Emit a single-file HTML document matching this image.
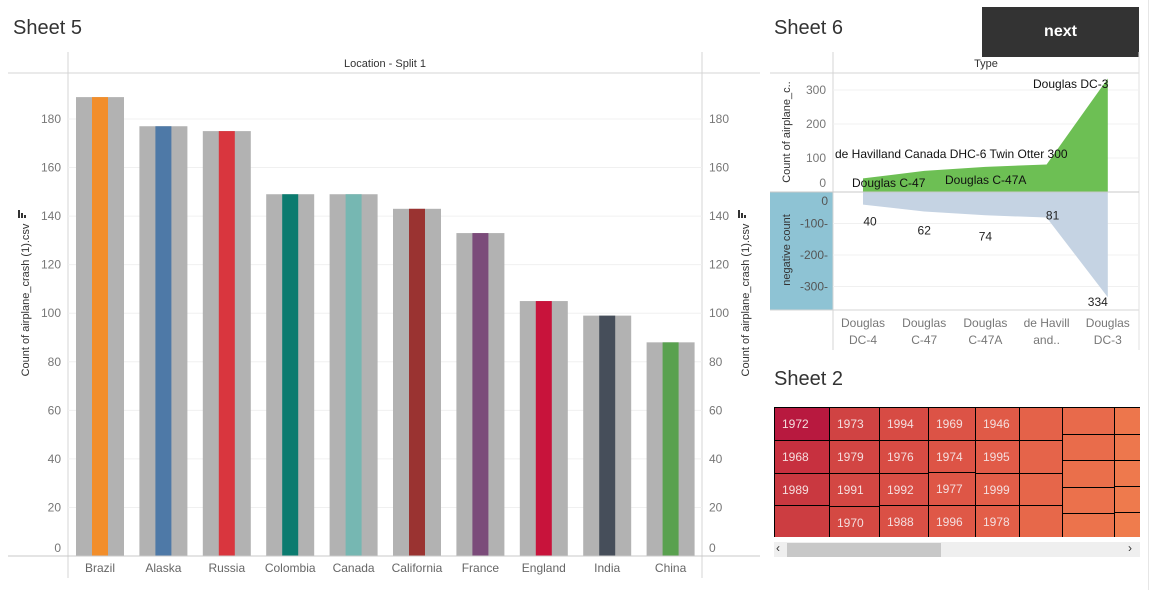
<!DOCTYPE html>
<html><head><meta charset="utf-8"><style>
body{margin:0;width:1153px;height:590px;background:#fff;font-family:"Liberation Sans",sans-serif;overflow:hidden;position:relative}
.t{position:absolute;font-size:20px;color:#333}
</style></head><body>
<div class="t" style="left:13px;top:17px">Sheet 5</div>
<div class="t" style="left:774px;top:17px">Sheet 6</div>
<div class="t" style="left:774px;top:368px">Sheet 2</div>
<div style="position:absolute;left:982px;top:7px;width:157px;height:50px;background:#333;color:#fff;font-weight:bold;font-size:16px;display:flex;align-items:center;justify-content:center">next</div>
<div style="position:absolute;left:1148px;top:0;width:1px;height:590px;background:#e6e6e6"></div>
<svg id="s5" width="1153" height="590" style="position:absolute;left:0;top:0"></svg>
<svg id="s6" width="1153" height="590" style="position:absolute;left:0;top:0"></svg>
<div style="position:absolute;left:774px;top:407px;width:366px;height:130px;overflow:hidden;background:#000" id="tm"></div>
<div style="position:absolute;left:774px;top:542px;width:366px;height:15px;background:#efefef">
<div style="position:absolute;left:13px;top:1px;width:154px;height:14px;background:#c8c8c8"></div>
<div style="position:absolute;left:2px;top:-1px;font-size:12px;color:#333">&lsaquo;</div>
<div style="position:absolute;right:8px;top:-1px;font-size:12px;color:#333">&rsaquo;</div>
</div>
<script>
const NS="http://www.w3.org/2000/svg";
function mk(svg,tag,a,txt){const e=document.createElementNS(NS,tag);for(const k in a)e.setAttribute(k,a[k]);if(txt!==undefined)e.textContent=txt;svg.appendChild(e);return e;}
// ---- Sheet 5 data
const locations=["Brazil","Alaska","Russia","Colombia","Canada","California","France","England","India","China"];
const counts=[189,177,175,149,149,143,133,105,99,88];
const barColors=["#f28e2b","#4e79a7","#d9363e","#0b7b6f","#76b7b2","#9a3331","#7b4b7a","#c8133b","#464e5a","#59a14f"];
const yTicks=[0,20,40,60,80,100,120,140,160,180];
const s5=document.getElementById('s5');
const y5=v=>556-v*2.428, x5=i=>100+i*63.4;
let e;
e=mk(s5,'line',{x1:8,y1:73,x2:760,y2:73,stroke:'#d4d4d4'});
e=mk(s5,'line',{x1:68,y1:52,x2:68,y2:578,stroke:'#d4d4d4'});
e=mk(s5,'line',{x1:702,y1:52,x2:702,y2:578,stroke:'#d4d4d4'});
e=mk(s5,'text',{x:385,y:67,'font-size':11,'text-anchor':'middle',fill:'#333'},'Location - Split 1');
yTicks.forEach(t=>{
 const ly=t===0?552:y5(t)+4;
 e=mk(s5,'line',{x1:68,x2:702,y1:y5(t),y2:y5(t),stroke:'#f0f0f0'});
 e=mk(s5,'text',{x:61,y:ly,'font-size':12,'text-anchor':'end',fill:'#777'},t);
 e=mk(s5,'text',{x:709,y:ly,'font-size':12,fill:'#777'},t);
});
locations.forEach((l,i)=>{
 e=mk(s5,'rect',{x:x5(i)-24,y:y5(counts[i]),width:48,height:556-y5(counts[i]),fill:'#b2b2b2'});
 e=mk(s5,'rect',{x:x5(i)-8,y:y5(counts[i]),width:16,height:556-y5(counts[i]),fill:barColors[i]});
 e=mk(s5,'text',{x:x5(i),y:572,'font-size':12,'text-anchor':'middle',fill:'#666'},l);
});
e=mk(s5,'line',{x1:8,y1:556,x2:760,y2:556,stroke:'#c8c8c8'});
e=mk(s5,'text',{x:29,y:300,'font-size':11,'text-anchor':'middle',fill:'#333',transform:'rotate(-90 29 300)'},'Count of airplane_crash (1).csv');
e=mk(s5,'text',{x:749,y:300,'font-size':11,'text-anchor':'middle',fill:'#333',transform:'rotate(-90 749 300)'},'Count of airplane_crash (1).csv');
[[18,'sort-icon-left'],[738,'sort-icon-right']].forEach(([x,n])=>{[[0,8],[3,5],[6,3]].forEach(([dx,h])=>{e=mk(s5,'rect',{x:x+dx,y:218-h,width:2,height:h,fill:'#333'});});});
// ---- Sheet 6 data
const types=["Douglas DC-4","Douglas C-47","Douglas C-47A","de Havilland Canada DHC-6 Twin Otter 300","Douglas DC-3"];
const typeLabels=[["Douglas","DC-4"],["Douglas","C-47"],["Douglas","C-47A"],["de Havill","and.."],["Douglas","DC-3"]];
const typeCounts=[40,62,74,81,334];
const posTicks=[0,100,200,300], negTicks=[0,-100,-200,-300];
const s6=document.getElementById('s6');
const xs=i=>863+i*61.2, yp=v=>192-v*0.34, yn=v=>192-v*0.315;
e=mk(s6,'rect',{x:770,y:192,width:63,height:118,fill:'#8ec3d4'});
e=mk(s6,'line',{x1:833,y1:52,x2:833,y2:350,stroke:'#d4d4d4'});
[73,310].forEach(y=>{e=mk(s6,'line',{x1:770,y1:y,x2:1139,y2:y,stroke:'#d4d4d4'});});
e=mk(s6,'line',{x1:1139,y1:52,x2:1139,y2:350,stroke:'#e0e0e0'});
e=mk(s6,'text',{x:986,y:67,'font-size':11,'text-anchor':'middle',fill:'#333'},'Type');
posTicks.forEach(t=>{e=mk(s6,'line',{x1:833,x2:1139,y1:yp(t),y2:yp(t),stroke:'#f0f0f0'});
 e=mk(s6,'text',{x:826,y:t===0?187:yp(t)+4,'font-size':12,'text-anchor':'end',fill:'#777'},t);});
negTicks.forEach(t=>{e=mk(s6,'line',{x1:833,x2:1139,y1:yn(t),y2:yn(t),stroke:'#f0f0f0'});
 e=mk(s6,'text',{x:828,y:t===0?205:yn(t)+4,'font-size':12,'text-anchor':'end',fill:'#555'},t+(t?'-':''));});
let pp=typeCounts.map((v,i)=>xs(i)+','+yp(v)).join(' ');
e=mk(s6,'polygon',{points:xs(0)+',192 '+pp+' '+xs(4)+',192',fill:'#6dbf54'});
let np=typeCounts.map((v,i)=>xs(i)+','+yn(-v)).join(' ');
e=mk(s6,'polygon',{points:xs(0)+',192 '+np+' '+xs(4)+',192',fill:'#c5d3e3'});
e=mk(s6,'line',{x1:770,y1:192,x2:1139,y2:192,stroke:'#c8c8c8'});
const lblDx=[7,0,0,6,-10], lblDy=[17,19,21,-2,0];
typeCounts.forEach((v,i)=>{
 e=mk(s6,'text',{x:xs(i)+lblDx[i],y:i==4?306:yn(-v)+lblDy[i]+4,'font-size':12,'text-anchor':'middle',fill:'#222'},v);
 e=mk(s6,'text',{x:xs(i),y:327,'font-size':12,'text-anchor':'middle',fill:'#777'},typeLabels[i][0]);
 e=mk(s6,'text',{x:xs(i),y:344,'font-size':12,'text-anchor':'middle',fill:'#777'},typeLabels[i][1]);});
[[1033,88,types[4]],[835,158,types[3]],[852,187,types[1]],[945,184,types[2]]].forEach(([x,y,t])=>{e=mk(s6,'text',{x:x,y:y,'font-size':12,fill:'#111'},t);});
e=mk(s6,'text',{x:790,y:132,'font-size':11,'text-anchor':'middle',fill:'#333',transform:'rotate(-90 790 132)'},'Count of airplane_c..');
e=mk(s6,'text',{x:790,y:250,'font-size':11,'text-anchor':'middle',fill:'#333',transform:'rotate(-90 790 250)'},'negative count');
// ---- Treemap
const tm=document.getElementById('tm');
const cells=[
[0,0,55,33,'#b8193f','1972'],[0,33,55,33,'#c7303f','1968'],[0,66,55,32,'#c93840','1989'],[0,98,55,32,'#cc3d41',''],
[55,0,50,33,'#d04343','1973'],[55,33,50,33,'#d24543','1979'],[55,66,50,33,'#d34743','1991'],[55,99,50,31,'#d44943','1970'],
[105,0,49,33,'#d74b44','1994'],[105,33,49,33,'#d84c44','1976'],[105,66,49,32,'#d94e45','1992'],[105,98,49,32,'#da5045','1988'],
[154,0,47,33,'#dc5346','1969'],[154,33,47,32,'#dd5446','1974'],[154,65,47,33,'#de5646','1977'],[154,98,47,32,'#df5847','1996'],
[201,0,44,33,'#e05a47','1946'],[201,33,44,33,'#e15b48','1995'],[201,66,44,32,'#e25d48','1999'],[201,98,44,32,'#e35e48','1978'],
[245,0,43,33,'#e46249',''],[245,33,43,33,'#e5644a',''],[245,66,43,32,'#e6664a',''],[245,98,43,32,'#e7684a',''],
[288,0,52,27,'#e86a4b',''],[288,27,52,26,'#e96c4b',''],[288,53,52,27,'#ea6f4b',''],[288,80,52,26,'#eb714c',''],[288,106,52,24,'#ec734c',''],
[340,0,30,27,'#ed764c',''],[340,27,30,26,'#ed774d',''],[340,53,30,26,'#ee794d',''],[340,79,30,26,'#ee7a4d',''],[340,105,30,25,'#ef7c4d','']];
cells.forEach(c=>{const d=document.createElement('div');

d.style.cssText=`position:absolute;left:${c[0]+1}px;top:${c[1]+1}px;width:${c[2]-1}px;height:${c[3]-1}px;background:${c[4]};color:#f4dede;font-size:12px;padding:9px 0 0 7px;box-sizing:border-box`;d.textContent=c[5];tm.appendChild(d);});
</script>
</body></html>
